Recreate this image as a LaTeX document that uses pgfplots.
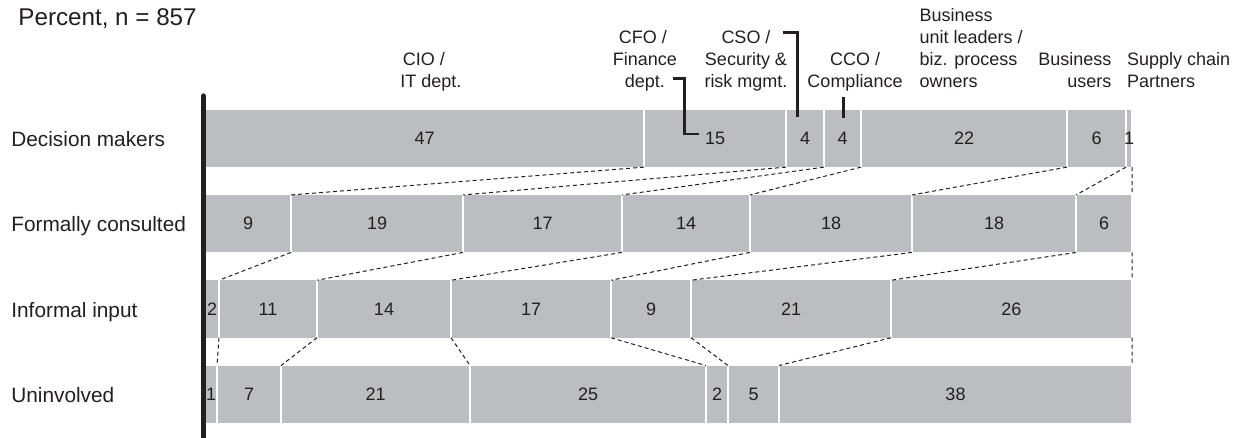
\documentclass[border=0pt]{standalone}
\usepackage{pgfplots}
\pgfplotsset{compat=1.18}
\usepackage{fontspec}
\setmainfont{Liberation Sans}
\definecolor{barg}{HTML}{BCBDC0}
\definecolor{ink}{HTML}{231F20}
\newcommand{\hdr}{\fontsize{9}{10.9}\selectfont}
\begin{document}
\begin{tikzpicture}
\pgfplotsset{base/.style={scale only axis, width=463.5pt, height=171pt,
  at={(102.5pt,0pt)}, anchor=south west, xmin=0, xmax=100,
  ymin=-0.497, ymax=3.5123, y dir=reverse, clip=false, enlargelimits=false}}
\begin{axis}[base, xbar stacked, bar width=30.1pt,
  axis line style={draw=none}, xtick=\empty, ytick={0,1,2,3},
  yticklabels={Decision makers, Formally consulted, Informal input, Uninvolved},
  major tick length=0pt, tick style={draw=none},
  yticklabel style={anchor=base west, inner sep=0pt, xshift=-97pt, yshift=-4.1pt,
    font=\fontsize{10.4}{12}\selectfont, text=ink}]
\addplot[fill=barg, draw=white, line width=1.35pt] coordinates {(47.36,0) (9.28,1) (1.51,2) (1.29,3)};
\addplot[fill=barg, draw=white, line width=1.35pt] coordinates {(15.32,0) (18.55,1) (10.57,2) (6.91,3)};
\addplot[fill=barg, draw=white, line width=1.35pt] coordinates {(4.09,0) (17.15,1) (14.46,2) (20.39,3)};
\addplot[fill=barg, draw=white, line width=1.35pt] coordinates {(4.00,0) (13.81,1) (17.26,2) (25.46,3)};
\addplot[fill=barg, draw=white, line width=1.35pt] coordinates {(22.22,0) (17.48,1) (8.63,2) (2.37,3)};
\addplot[fill=barg, draw=white, line width=1.35pt] coordinates {(6.36,0) (17.69,1) (21.57,2) (5.50,3)};
\addplot[fill=barg, draw=white, line width=1.35pt] coordinates {(0.65,0) (6.04,1) (26.00,2) (38.08,3)};
\end{axis}
\begin{axis}[base, hide axis]
\draw[ink, line width=2.65pt, line cap=round] (axis cs:-0.18,-0.497) -- (axis cs:-0.18,3.7);
% dashed connectors between boundaries of consecutive rows
\addplot[ink, line width=0.5pt, dash pattern=on 2pt off 1.5pt, unbounded coords=jump] coordinates {
 (47.36,0.337) (9.28,0.663) (nan,nan)
 (62.68,0.337) (27.83,0.663) (nan,nan)
 (66.77,0.337) (44.98,0.663) (nan,nan)
 (70.77,0.337) (58.79,0.663) (nan,nan)
 (92.99,0.337) (76.27,0.663) (nan,nan)
 (99.35,0.337) (93.96,0.663) (nan,nan)
 (100,0.337) (100,0.663) (nan,nan)
 (9.28,1.337) (1.51,1.663) (nan,nan)
 (27.83,1.337) (12.08,1.663) (nan,nan)
 (44.98,1.337) (26.54,1.663) (nan,nan)
 (58.79,1.337) (43.80,1.663) (nan,nan)
 (76.27,1.337) (52.43,1.663) (nan,nan)
 (93.96,1.337) (74.00,1.663) (nan,nan)
 (100,1.337) (100,1.663) (nan,nan)
 (1.51,2.337) (1.29,2.663) (nan,nan)
 (12.08,2.337) (8.20,2.663) (nan,nan)
 (26.54,2.337) (28.59,2.663) (nan,nan)
 (43.80,2.337) (54.05,2.663) (nan,nan)
 (52.43,2.337) (56.42,2.663) (nan,nan)
 (74.00,2.337) (61.92,2.663) (nan,nan)
 (100,2.337) (100,2.663)
};
% value labels at segment centres
\addplot[only marks, mark=*, mark size=0pt, mark options={draw=none, fill=none},
  nodes near coords={\pgfplotspointmeta}, point meta=explicit symbolic,
  every node near coord/.append style={anchor=center, inner sep=0pt,
    font=\fontsize{9}{11}\selectfont, text=ink}]
  table[meta=l] {
x y l
23.68 0 47
55.02 0 15
64.73 0 4
68.77 0 4
81.88 0 22
96.17 0 6
99.68 0 1
4.64 1 9
18.56 1 19
36.41 1 17
51.89 1 14
67.53 1 18
85.12 1 18
96.98 1 6
0.76 2 2
6.80 2 11
19.31 2 14
35.17 2 17
48.12 2 9
63.22 2 21
87.00 2 26
0.65 3 1
4.75 3 7
18.40 3 21
41.32 3 25
55.24 3 2
59.17 3 5
80.96 3 38
};
% title
\node[anchor=base west, inner sep=0pt, font=\fontsize{12.1}{14}\selectfont, text=ink] at (axis cs:-20.17,-1.329) {Percent, n = 857};
% category headers (anchor=base is the baseline of the last line)
\node[anchor=base, align=center, inner sep=0pt, font=\hdr, text=ink] at (axis cs:24.36,-0.599) {CIO /\kern7pt\\IT dept.};
\node[anchor=base, align=center, inner sep=0pt, font=\hdr, text=ink] at (axis cs:47.46,-0.599) {CFO /\kern2pt\\Finance\\dept.};
\node[anchor=base, align=center, inner sep=0pt, font=\hdr, text=ink] at (axis cs:58.36,-0.599) {CSO /\\Security \&\\risk mgmt.};
\node[anchor=base, align=center, inner sep=0pt, font=\hdr, text=ink] at (axis cs:70.12,-0.599) {CCO /\\Compliance};
\node[anchor=base west, align=left, inner sep=0pt, font=\hdr, text=ink] at (axis cs:77.05,-0.599) {Business\\unit leaders /\\biz. process\\owners};
\node[anchor=base east, align=right, inner sep=0pt, font=\hdr, text=ink] at (axis cs:97.81,-0.599) {Business\\users};
\node[anchor=base west, align=left, inner sep=0pt, font=\hdr, text=ink] at (axis cs:99.43,-0.599) {Supply chain\\Partners};
% leader lines
\draw[ink, line width=1.35pt] (axis cs:50.45,-0.702) -| (axis cs:51.73,-0.052) -- (axis cs:53.29,-0.052);
\draw[ink, line width=1.35pt] (axis cs:62.32,-1.244) -| (axis cs:63.89,-0.251);
\draw[ink, line width=1.35pt] (axis cs:68.86,-0.489) -- (axis cs:68.86,-0.236);
\end{axis}
\pgfresetboundingbox
\path[use as bounding box] (0,0) rectangle (620.5pt,219pt);
\end{tikzpicture}
\end{document}
